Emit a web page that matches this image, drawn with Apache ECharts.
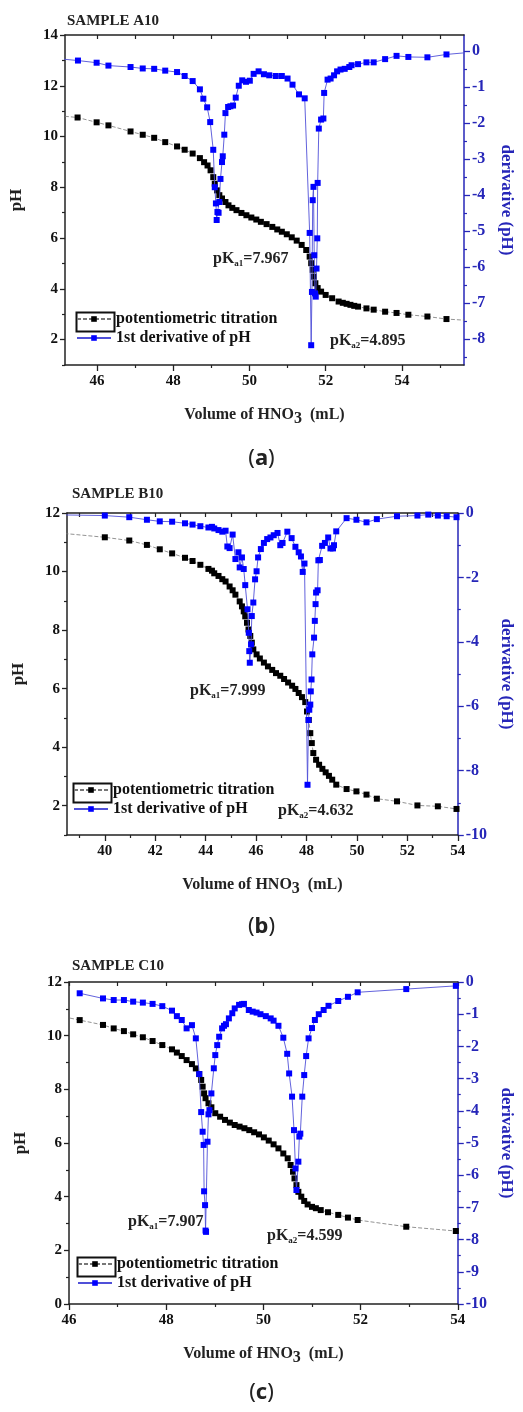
<!DOCTYPE html>
<html lang="en">
<head>
    <meta charset="UTF-8">
    <script src="https://cdn.jsdelivr.net/npm/echarts@6/dist/echarts.min.js"></script>
</head>
<body style="margin:0;background:#fff">
    <div id="chart" style="width:523px;height:1412px;"></div>
    <script>
        // ---- sample A10 ----
        var xA_pH = [45.00,45.49,45.99,46.30,46.88,47.20,47.50,47.79,48.10,48.30,48.51,48.70,48.81,48.90,48.98,49.05,49.09,49.15,49.21,49.28,49.37,49.45,49.55,49.66,49.79,49.92,50.05,50.18,50.30,50.45,50.60,50.73,50.85,50.98,51.11,51.24,51.37,51.49,51.58,51.62,51.66,51.69,51.73,51.79,51.88,52.00,52.17,52.34,52.45,52.55,52.65,52.75,52.85,53.07,53.26,53.56,53.86,54.17,54.67,55.17,55.70]
        var pH_A  = [10.82,10.75,10.56,10.44,10.20,10.07,9.95,9.78,9.61,9.48,9.33,9.15,8.99,8.86,8.67,8.40,8.14,7.88,7.69,7.56,7.42,7.29,7.19,7.10,6.99,6.90,6.81,6.73,6.64,6.55,6.44,6.34,6.25,6.15,6.03,5.90,5.73,5.53,5.27,5.01,4.75,4.48,4.22,4.03,3.89,3.76,3.63,3.50,3.45,3.41,3.37,3.33,3.30,3.23,3.18,3.10,3.05,2.98,2.91,2.81,2.76]
        var xA_d  = [44.90,45.50,45.99,46.30,46.88,47.20,47.50,47.79,48.10,48.30,48.51,48.70,48.79,48.89,48.97,49.05,49.09,49.12,49.14,49.16,49.19,49.21,49.24,49.28,49.30,49.34,49.37,49.44,49.50,49.57,49.64,49.72,49.81,49.91,50.01,50.11,50.24,50.38,50.52,50.69,50.85,51.00,51.13,51.30,51.45,51.58,51.62,51.64,51.66,51.68,51.70,51.72,51.74,51.76,51.78,51.79,51.82,51.88,51.94,51.96,52.05,52.13,52.22,52.30,52.39,52.50,52.62,52.68,52.85,53.07,53.26,53.56,53.86,54.17,54.67,55.17,55.70]
        var d_A   = [-0.20,-0.26,-0.32,-0.40,-0.44,-0.48,-0.49,-0.54,-0.58,-0.69,-0.83,-1.06,-1.32,-1.56,-1.97,-2.74,-3.78,-4.23,-4.69,-4.47,-4.49,-4.19,-3.55,-3.08,-2.92,-2.32,-1.72,-1.55,-1.53,-1.51,-1.29,-0.96,-0.81,-0.85,-0.82,-0.63,-0.56,-0.64,-0.67,-0.69,-0.69,-0.76,-0.93,-1.20,-1.31,-5.05,-8.17,-6.69,-4.14,-3.77,-5.67,-6.73,-6.82,-6.04,-5.20,-3.66,-2.15,-1.90,-1.87,-1.16,-0.79,-0.76,-0.67,-0.56,-0.51,-0.49,-0.44,-0.39,-0.36,-0.31,-0.31,-0.22,-0.13,-0.16,-0.17,-0.09,-0.04]

        // ---- sample B10 ----
        var xB_pH = [38.40,40.00,40.97,41.67,42.18,42.67,43.18,43.48,43.79,44.11,44.25,44.34,44.51,44.66,44.79,44.95,45.07,45.18,45.35,45.44,45.51,45.57,45.64,45.70,45.77,45.83,45.89,46.02,46.15,46.31,46.47,46.64,46.79,46.96,47.11,47.27,47.43,47.56,47.69,47.82,47.95,48.02,48.09,48.15,48.21,48.27,48.38,48.50,48.63,48.76,48.89,49.02,49.18,49.59,49.98,50.38,50.79,51.59,52.40,53.21,53.95]
        var pH_B  = [11.30,11.17,11.06,10.91,10.76,10.62,10.47,10.36,10.23,10.09,10.03,9.94,9.85,9.74,9.66,9.49,9.36,9.21,8.98,8.81,8.64,8.47,8.25,8.02,7.80,7.57,7.34,7.17,7.03,6.89,6.76,6.64,6.53,6.44,6.33,6.21,6.10,5.99,5.85,5.71,5.54,5.22,4.93,4.48,4.14,3.80,3.57,3.40,3.26,3.14,3.02,2.89,2.72,2.57,2.49,2.38,2.24,2.15,2.01,1.98,1.89]
        var xB_d  = [38.40,40.00,40.97,41.67,42.18,42.67,43.18,43.48,43.79,44.11,44.25,44.34,44.51,44.66,44.79,44.86,44.95,45.07,45.18,45.30,45.35,45.44,45.51,45.57,45.66,45.71,45.73,45.75,45.80,45.83,45.89,45.96,46.02,46.08,46.19,46.31,46.44,46.57,46.70,46.85,46.96,47.05,47.24,47.41,47.56,47.69,47.78,47.85,47.92,48.04,48.08,48.11,48.15,48.17,48.20,48.23,48.30,48.33,48.36,48.38,48.44,48.47,48.53,48.62,48.73,48.86,48.95,49.05,49.09,49.18,49.59,49.98,50.38,50.79,51.59,52.40,52.83,53.21,53.56,53.95]
        var d_B   = [-0.06,-0.08,-0.13,-0.21,-0.26,-0.27,-0.32,-0.36,-0.41,-0.45,-0.43,-0.48,-0.53,-0.58,-0.55,-1.04,-1.09,-0.67,-1.43,-1.22,-1.69,-1.38,-1.74,-2.24,-2.99,-3.72,-4.29,-4.65,-4.08,-3.20,-2.78,-2.06,-1.81,-1.38,-1.12,-0.93,-0.81,-0.76,-0.69,-0.62,-1.00,-0.93,-0.58,-0.78,-1.05,-1.22,-1.35,-1.83,-1.57,-8.44,-6.43,-6.11,-5.95,-5.54,-5.17,-4.39,-3.87,-3.35,-2.83,-2.47,-2.40,-1.47,-1.46,-1.02,-0.93,-0.76,-1.10,-1.10,-1.00,-0.57,-0.16,-0.21,-0.29,-0.19,-0.10,-0.08,-0.05,-0.08,-0.10,-0.13]

        // ---- sample C10 ----
        var xC_pH = [45.90,46.22,46.70,46.92,47.13,47.32,47.52,47.72,47.92,48.12,48.22,48.32,48.42,48.53,48.61,48.68,48.72,48.75,48.78,48.81,48.87,48.93,49.01,49.11,49.21,49.31,49.41,49.51,49.61,49.71,49.81,49.91,50.01,50.11,50.21,50.31,50.41,50.50,50.56,50.61,50.64,50.68,50.72,50.78,50.84,50.91,51.00,51.08,51.18,51.33,51.54,51.74,51.94,52.94,53.96]
        var pH_C  = [10.70,10.58,10.40,10.27,10.17,10.05,9.94,9.80,9.65,9.49,9.37,9.24,9.09,8.94,8.78,8.57,8.35,8.10,7.85,7.67,7.48,7.33,7.11,6.98,6.86,6.76,6.67,6.61,6.55,6.48,6.40,6.32,6.21,6.09,5.95,5.80,5.61,5.43,5.18,4.93,4.68,4.43,4.18,4.00,3.84,3.71,3.62,3.57,3.50,3.42,3.32,3.22,3.13,2.88,2.72]
        var xC_d  = [46.22,46.70,46.92,47.13,47.32,47.52,47.72,47.92,48.12,48.22,48.32,48.42,48.53,48.61,48.68,48.72,48.75,48.77,48.78,48.80,48.81,48.82,48.85,48.87,48.89,48.93,48.98,49.01,49.05,49.09,49.15,49.19,49.23,49.29,49.36,49.41,49.50,49.56,49.60,49.70,49.78,49.86,49.94,50.05,50.15,50.21,50.31,50.41,50.49,50.53,50.59,50.63,50.66,50.68,50.72,50.74,50.76,50.80,50.84,50.88,50.93,51.00,51.06,51.14,51.24,51.34,51.54,51.74,51.94,52.94,53.96]
        var d_C   = [-0.35,-0.51,-0.56,-0.56,-0.61,-0.64,-0.68,-0.75,-0.89,-1.06,-1.18,-1.44,-1.34,-1.75,-2.86,-4.04,-4.65,-5.06,-6.50,-6.93,-7.72,-7.76,-4.96,-4.11,-3.98,-3.46,-2.68,-2.27,-1.96,-1.70,-1.44,-1.36,-1.31,-1.13,-0.97,-0.82,-0.71,-0.69,-0.68,-0.87,-0.92,-0.95,-1.00,-1.06,-1.13,-1.20,-1.36,-1.73,-2.23,-2.84,-3.56,-4.60,-5.79,-6.46,-5.58,-4.80,-4.71,-3.56,-2.89,-2.30,-1.75,-1.43,-1.18,-1.00,-0.87,-0.74,-0.59,-0.46,-0.32,-0.22,-0.12]

        var titles = ['SAMPLE A10', 'SAMPLE B10', 'SAMPLE C10']
        var pKa1 = ['7.967', '7.999', '7.907']
        var pKa2 = ['4.895', '4.632', '4.599']
        var captions = ['a', 'b', 'c']
        var nameT = 'potentiometric titration'
        var nameD = '1st derivative of pH'

        var FONT = 'Liberation Serif'
        var AXBLUE = '#2626b8'

        function range(a, b, step) {
            var out = []
            for (var v = a; v <= b + 1e-9; v += step) out.push(Math.round(v * 100) / 100)
            return out
        }
        function pairs(xs, ys) {
            return xs.map(function (x, i) { return [x, ys[i]] })
        }

        // layout for each panel
        var panels = [
            { grid: { left: 65, top: 35, width: 410, height: 330 },
              x: [45.16, 55.63], xMajor: range(46, 54, 2), xMinor: range(47, 55, 2),
              yl: [1, 14], ylMajor: range(2, 14, 2), ylMinor: range(1, 13, 2),
              yr: [-8.72, 0.45], yrMajor: range(-8, 0, 1), yrMinor: range(-8.5, 0, 1),
              data: [pairs(xA_pH, pH_A), pairs(xA_d, d_A)] },
            { grid: { left: 67, top: 513, width: 401, height: 322 },
              x: [38.5, 54], xMajor: range(40, 54, 2), xMinor: range(39, 53, 2),
              yl: [1, 12], ylMajor: range(2, 12, 2), ylMinor: range(1, 11, 2),
              yr: [-10, 0], yrMajor: range(-10, 0, 2), yrMinor: range(-9, -1, 2),
              data: [pairs(xB_pH, pH_B), pairs(xB_d, d_B)] },
            { grid: { left: 69, top: 982, width: 401, height: 322 },
              x: [46, 54], xMajor: range(46, 54, 2), xMinor: range(47, 53, 2),
              yl: [0, 12], ylMajor: range(0, 12, 2), ylMinor: range(1, 11, 2),
              yr: [-10, 0], yrMajor: range(-10, 0, 1), yrMinor: range(-9.5, -0.5, 1),
              data: [pairs(xC_pH, pH_C), pairs(xC_d, d_C)] }
        ]

        var labelStyle = { fontFamily: FONT, fontWeight: 'bold', fontSize: 15, color: '#111' }
        var grids = [], xAxes = [], yAxes = [], series = [], legends = [], graphics = []

        panels.forEach(function (p, gi) {
            grids.push(p.grid)
            var allX = p.xMajor.concat(p.xMinor)
            // bottom axis with labels
            xAxes.push({
                type: 'value', gridIndex: gi, position: 'bottom', min: p.x[0], max: p.x[1],
                axisLine: { onZero: false, lineStyle: { color: '#222', width: 1.5 } },
                axisTick: { customValues: p.xMajor, length: 6, lineStyle: { color: '#222', width: 1.3 } },
                axisLabel: Object.assign({ customValues: p.xMajor, margin: 9 }, labelStyle),
                splitLine: { show: false },
                name: '{t|Volume of HNO}{s|3}{t|  (mL)}', nameLocation: 'middle', nameGap: 37,
                nameTextStyle: { rich: {
                    t: { fontFamily: FONT, fontWeight: 'bold', fontSize: 16, color: '#222' },
                    s: { fontFamily: FONT, fontWeight: 'bold', fontSize: 16, color: '#222', padding: [9, 0, 0, 0] }
                } }
            })
            // bottom minor ticks
            xAxes.push({
                type: 'value', gridIndex: gi, position: 'bottom', min: p.x[0], max: p.x[1],
                axisLine: { show: false, onZero: false },
                axisTick: { customValues: p.xMinor, length: 3, lineStyle: { color: '#222', width: 1.2 } },
                axisLabel: { show: false }, splitLine: { show: false }
            })
            // top frame
            xAxes.push({
                type: 'value', gridIndex: gi, position: 'top', min: p.x[0], max: p.x[1],
                axisLine: { onZero: false, lineStyle: { color: '#222', width: 1.5 } },
                axisTick: { customValues: allX, inside: true, length: 4, lineStyle: { color: '#222', width: 1.2 } },
                axisLabel: { show: false }, splitLine: { show: false }
            })
            // left pH axis
            yAxes.push({
                type: 'value', gridIndex: gi, position: 'left', min: p.yl[0], max: p.yl[1],
                axisLine: { onZero: false, lineStyle: { color: '#222', width: 1.5 } },
                axisTick: { customValues: p.ylMajor, length: 5, lineStyle: { color: '#222', width: 1.3 } },
                axisLabel: Object.assign({ customValues: p.ylMajor, margin: 7 }, labelStyle),
                splitLine: { show: false },
                name: 'pH', nameLocation: 'middle', nameGap: 40,
                nameTextStyle: { fontFamily: FONT, fontWeight: 'bold', fontSize: 17, color: '#222' }
            })
            yAxes.push({
                type: 'value', gridIndex: gi, position: 'left', min: p.yl[0], max: p.yl[1],
                axisLine: { show: false, onZero: false },
                axisTick: { customValues: p.ylMinor, length: 3, lineStyle: { color: '#222', width: 1.2 } },
                axisLabel: { show: false }, splitLine: { show: false }
            })
            // right derivative axis
            yAxes.push({
                type: 'value', gridIndex: gi, position: 'right', min: p.yr[0], max: p.yr[1],
                axisLine: { onZero: false, lineStyle: { color: AXBLUE, width: 1.5 } },
                axisTick: { customValues: p.yrMajor, length: 6, lineStyle: { color: AXBLUE, width: 1.3 } },
                axisLabel: Object.assign({ customValues: p.yrMajor, margin: 8 }, labelStyle, { color: AXBLUE, fontSize: 16 }),
                splitLine: { show: false },
                name: 'derivative (pH)', nameLocation: 'middle', nameGap: 34, nameRotate: -90,
                nameTextStyle: { fontFamily: FONT, fontWeight: 'bold', fontSize: 17, color: AXBLUE }
            })
            yAxes.push({
                type: 'value', gridIndex: gi, position: 'right', min: p.yr[0], max: p.yr[1],
                axisLine: { show: false, onZero: false },
                axisTick: { customValues: p.yrMinor, length: 3, lineStyle: { color: AXBLUE, width: 1.2 } },
                axisLabel: { show: false }, splitLine: { show: false }
            })

            series.push({
                name: nameT, type: 'line', xAxisIndex: gi * 3, yAxisIndex: gi * 4,
                data: p.data[0], symbol: 'rect', symbolSize: 6, z: 2,
                itemStyle: { color: '#000' },
                lineStyle: { color: '#777', width: 0.8, type: [4, 2] }
            })
            series.push({
                name: nameD, type: 'line', xAxisIndex: gi * 3, yAxisIndex: gi * 4 + 2,
                data: p.data[1], symbol: 'rect', symbolSize: 6, z: 3,
                itemStyle: { color: '#0000ff' },
                lineStyle: { color: '#5050d8', width: 0.9 }
            })
        })

        var legendPos = [[76, 311], [73, 782], [77, 1256]]
        legendPos.forEach(function (lp) {
            legends.push({
                orient: 'vertical', left: lp[0], top: lp[1], selectedMode: false,
                itemWidth: 34, itemHeight: 7, itemGap: 3, padding: 0,
                data: [nameT, nameD],
                textStyle: { fontFamily: FONT, fontWeight: 'bold', fontSize: 16, color: '#111' }
            })
            graphics.push({
                type: 'rect', left: lp[0] - 2, top: lp[1] - 1,
                shape: { width: 38, height: 19 },
                style: { fill: 'none', stroke: '#111', lineWidth: 2 }
            })
        })

        var titleTop = [14, 487, 959]
        titles.forEach(function (t, i) {
            graphics.push({
                type: 'text', left: [67, 72, 72][i], top: titleTop[i],
                style: { text: t, fontFamily: FONT, fontWeight: 'bold', fontSize: 15, fill: '#222' }
            })
        })

        var pkRich = {
            m: { fontFamily: FONT, fontWeight: 'bold', fontSize: 16, fill: '#222', color: '#222' },
            s: { fontFamily: FONT, fontWeight: 'bold', fontSize: 9, fill: '#222', color: '#222', padding: [10, 0, 0, 0] }
        }
        var pk1Pos = [[213, 251], [190, 683], [128, 1214]]
        var pk2Pos = [[330, 333], [278, 803], [267, 1228]]
        for (var i = 0; i < 3; i++) {
            graphics.push({ type: 'text', left: pk1Pos[i][0], top: pk1Pos[i][1],
                style: { text: '{m|pK}{s|a1}{m|=' + pKa1[i] + '}', rich: pkRich } })
            graphics.push({ type: 'text', left: pk2Pos[i][0], top: pk2Pos[i][1],
                style: { text: '{m|pK}{s|a2}{m|=' + pKa2[i] + '}', rich: pkRich } })
        }

        var capTop = [448, 916, 1382]
        captions.forEach(function (c, i) {
            graphics.push({
                type: 'text', left: 'center', top: capTop[i],
                style: {
                    text: '{p|(}{b|' + c + '}{p|)}',
                    rich: {
                        p: { fontFamily: 'Noto Sans', fontSize: 22, fill: '#222', color: '#222' },
                        b: { fontFamily: 'Noto Sans', fontWeight: 'bold', fontSize: 22, fill: '#222', color: '#222' }
                    }
                }
            })
        })

        var myCharts = echarts.init(document.getElementById('chart'))
        myCharts.setOption({
            animation: false,
            backgroundColor: '#fff',
            grid: grids,
            xAxis: xAxes,
            yAxis: yAxes,
            legend: legends,
            series: series,
            graphic: graphics
        })
    </script>
</body>
</html>
